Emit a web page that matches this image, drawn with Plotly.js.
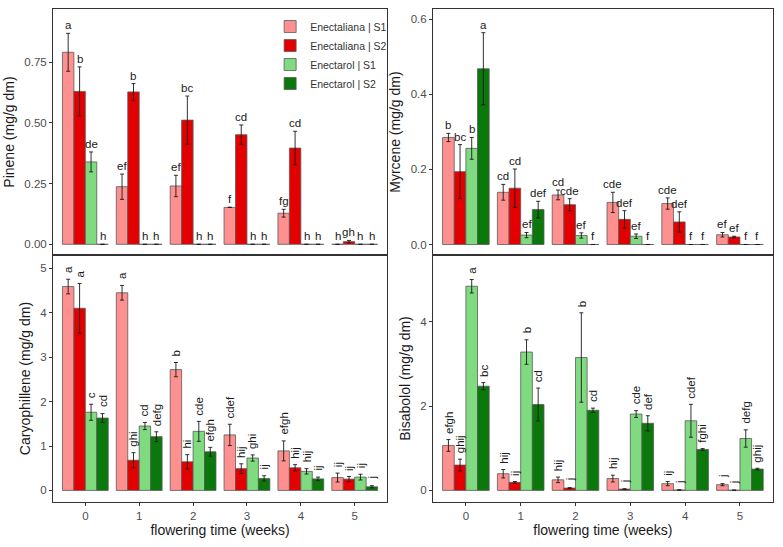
<!DOCTYPE html>
<html>
<head>
<meta charset="utf-8">
<script src="https://cdn.plot.ly/plotly-3.0.1.min.js"></script>
<style>
  html, body { margin: 0; padding: 0; background: #fff; }
  #chart { width: 783px; height: 547px; }
</style>
</head>
<body>
<div id="chart"></div>
<script>
// Terpene content per flowering week, 4 groups (Enectaliana/Enectarol x S1/S2)
const weeks = [0, 1, 2, 3, 4, 5];
const seriesNames = ['Enectaliana | S1', 'Enectaliana | S2', 'Enectarol | S1', 'Enectarol | S2'];

// Pinene
const pineneMean = [
    [0.790, 0.237, 0.240, 0.152, 0.128, 0],
    [0.629, 0.627, 0.511, 0.451, 0.396, 0.011],
    [0.339, 0, 0, 0, 0, 0],
    [0, 0, 0, 0, 0, 0],
];
const pineneSe = [
    [0.078, 0.052, 0.044, 0, 0.016, 0],
    [0.101, 0.034, 0.099, 0.040, 0.069, 0.005],
    [0.041, 0, 0, 0, 0, 0],
    [0, 0, 0, 0, 0, 0],
];
const pineneLetters = [
    ['a', 'ef', 'ef', 'f', 'fg', 'h'],
    ['b', 'b', 'bc', 'cd', 'cd', 'gh'],
    ['de', 'h', 'h', 'h', 'h', 'h'],
    ['h', 'h', 'h', 'h', 'h', 'h'],
];

// Myrcene
const myrceneMean = [
    [0.285, 0.139, 0.132, 0.112, 0.109, 0.026],
    [0.194, 0.150, 0.106, 0.067, 0.060, 0.020],
    [0.256, 0.025, 0.024, 0.022, 0, 0],
    [0.468, 0.093, 0, 0, 0, 0],
];
const myrceneSe = [
    [0.011, 0.021, 0.013, 0.027, 0.015, 0.006],
    [0.072, 0.051, 0.016, 0.023, 0.027, 0.002],
    [0.029, 0.007, 0.007, 0.006, 0, 0],
    [0.096, 0.022, 0, 0, 0, 0],
];
const myrceneLetters = [
    ['b', 'cd', 'cd', 'cde', 'cde', 'ef'],
    ['bc', 'cd', 'cde', 'def', 'def', 'ef'],
    ['b', 'ef', 'ef', 'ef', 'f', 'f'],
    ['a', 'def', 'f', 'f', 'f', 'f'],
];

// Caryophillene
const caryoMean = [
    [4.59, 4.45, 2.72, 1.25, 0.89, 0.29],
    [4.10, 0.68, 0.645, 0.49, 0.51, 0.255],
    [1.76, 1.45, 1.33, 0.73, 0.43, 0.30],
    [1.63, 1.21, 0.87, 0.27, 0.26, 0.082],
];
const caryoSe = [
    [0.165, 0.165, 0.16, 0.24, 0.225, 0.10],
    [0.56, 0.17, 0.16, 0.11, 0.07, 0.06],
    [0.18, 0.08, 0.225, 0.07, 0.06, 0.065],
    [0.10, 0.11, 0.10, 0.06, 0.04, 0.025],
];
const caryoLetters = [
    ['a', 'a', 'b', 'cdef', 'efgh', 'ij'],
    ['a', 'ghi', 'hi', 'hij', 'hij', 'ij'],
    ['c', 'cd', 'cde', 'ghi', 'hij', 'ij'],
    ['cd', 'defg', 'efgh', 'ij', 'ij', 'j'],
];

// Bisabolol
const bisaMean = [
    [1.065, 0.395, 0.25, 0.28, 0.16, 0.135],
    [0.60, 0.19, 0.055, 0.03, 0.01, 0.005],
    [4.84, 3.28, 3.15, 1.81, 1.65, 1.23],
    [2.47, 2.035, 1.90, 1.59, 0.97, 0.505],
];
const bisaSe = [
    [0.14, 0.10, 0.065, 0.08, 0.05, 0.025],
    [0.14, 0.02, 0.01, 0.01, 0.005, 0.003],
    [0.16, 0.29, 1.06, 0.08, 0.39, 0.205],
    [0.085, 0.39, 0.05, 0.18, 0.02, 0.02],
];
const bisaLetters = [
    ['efgh', 'hij', 'hij', 'hij', 'ij', 'j'],
    ['ghij', 'ij', 'j', 'j', 'j', 'j'],
    ['a', 'b', 'b', 'cde', 'cdef', 'defg'],
    ['bc', 'cd', 'cd', 'def', 'fghi', 'ghij'],
];

const COLORS = ['#ff9090', '#e30000', '#80db80', '#0a780a'];
const BAR_W = 0.2125;
const FONT = 'Liberation Sans, Arial, sans-serif';

const traces = [];
const annotations = [];

function addPanel(n, mean, se, letters, rotated) {
    const xa = n === 1 ? 'x' : 'x' + n;
    const ya = n === 1 ? 'y' : 'y' + n;
    mean.forEach((vals, k) => {
        const xs = weeks.map(w => w + (k - 1.5) * BAR_W);
        traces.push({
            type: 'bar',
            x: xs,
            y: vals,
            width: BAR_W,
            name: seriesNames[k],
            legendgroup: seriesNames[k],
            showlegend: n === 1,
            xaxis: xa,
            yaxis: ya,
            marker: { color: COLORS[k], line: { color: '#5a5a5a', width: 0.8 } },
            error_y: {
                type: 'data',
                array: se[k].map(e => (e > 0 ? e : null)),
                visible: true,
                color: '#1a1a1a',
                thickness: 0.9,
                width: 2,
            },
            hoverinfo: 'skip',
        });
        xs.forEach((x, i) => {
            annotations.push({
                x: x,
                y: vals[i] + se[k][i],
                xref: xa,
                yref: ya,
                text: letters[k][i],
                showarrow: false,
                xanchor: 'center',
                yanchor: 'bottom',
                textangle: rotated ? -90 : 0,
                yshift: rotated ? 5 : 1,
                borderpad: 0,
                font: { family: FONT, size: 11.5, color: '#1a1a1a' },
            });
        });
    });
}

addPanel(1, pineneMean, pineneSe, pineneLetters, false);
addPanel(2, myrceneMean, myrceneSe, myrceneLetters, false);
addPanel(3, caryoMean, caryoSe, caryoLetters, true);
addPanel(4, bisaMean, bisaSe, bisaLetters, true);

const LEFT = [0.0677, 0.4943];
const RIGHT = [0.553, 0.987];
const TOP = [0.5338, 0.9835];
const BOTTOM = [0.0823, 0.5338];

function xAxis(domain, anchor, showLabels) {
    return {
        domain: domain,
        anchor: anchor,
        range: [-0.6, 5.6],
        tickvals: weeks,
        ticktext: weeks.map(String),
        showticklabels: showLabels,
        ticks: showLabels ? 'outside' : '',
        ticklen: 3,
        tickcolor: '#333',
        tickfont: { family: FONT, size: 11.5, color: '#4d4d4d' },
        showgrid: false,
        zeroline: false,
        showline: true,
        linecolor: '#333',
        linewidth: 1,
        mirror: true,
        automargin: false,
        title: showLabels ? {
            text: 'flowering time (weeks)',
            font: { family: FONT, size: 14, color: '#1a1a1a' },
            standoff: 3,
        } : { text: '' },
    };
}

function yAxis(domain, anchor, range, tickvals, ticktext, title) {
    return {
        domain: domain,
        anchor: anchor,
        range: range,
        tickvals: tickvals,
        ticktext: ticktext,
        ticks: 'outside',
        ticklen: 3,
        tickcolor: '#333',
        tickfont: { family: FONT, size: 11.5, color: '#4d4d4d' },
        showgrid: false,
        zeroline: false,
        showline: true,
        linecolor: '#333',
        linewidth: 1,
        mirror: true,
        automargin: false,
        title: { text: title, font: { family: FONT, size: 14, color: '#1a1a1a' }, standoff: 6 },
    };
}

const layout = {
    width: 783,
    height: 547,
    margin: { l: 0, r: 0, t: 0, b: 0 },
    paper_bgcolor: '#ffffff',
    plot_bgcolor: '#ffffff',
    font: { family: FONT, color: '#1a1a1a' },
    barmode: 'overlay',
    showlegend: true,
    legend: {
        x: 0.345,
        y: 0.978,
        xanchor: 'left',
        yanchor: 'top',
        bgcolor: 'rgba(0,0,0,0)',
        font: { family: FONT, size: 10.5, color: '#333' },
        itemwidth: 30,
        traceorder: 'normal',
    },
    xaxis: xAxis(LEFT, 'y', false),
    yaxis: yAxis(TOP, 'x', [-0.044, 0.968], [0, 0.25, 0.5, 0.75], ['0.00', '0.25', '0.50', '0.75'], 'Pinene (mg/g dm)'),
    xaxis2: xAxis(RIGHT, 'y2', false),
    yaxis2: yAxis(TOP, 'x2', [-0.028, 0.627], [0, 0.2, 0.4, 0.6], ['0.0', '0.2', '0.4', '0.6'], 'Myrcene (mg/g dm)'),
    xaxis3: xAxis(LEFT, 'y3', true),
    yaxis3: yAxis(BOTTOM, 'x3', [-0.26, 5.30], [0, 1, 2, 3, 4, 5], ['0', '1', '2', '3', '4', '5'], 'Caryophillene (mg/g dm)'),
    xaxis4: xAxis(RIGHT, 'y4', true),
    yaxis4: yAxis(BOTTOM, 'x4', [-0.275, 5.58], [0, 2, 4], ['0', '2', '4'], 'Bisabolol (mg/g dm)'),
    annotations: annotations,
};

Plotly.newPlot('chart', traces, layout, { staticPlot: true, displayModeBar: false });
</script>
</body>
</html>
